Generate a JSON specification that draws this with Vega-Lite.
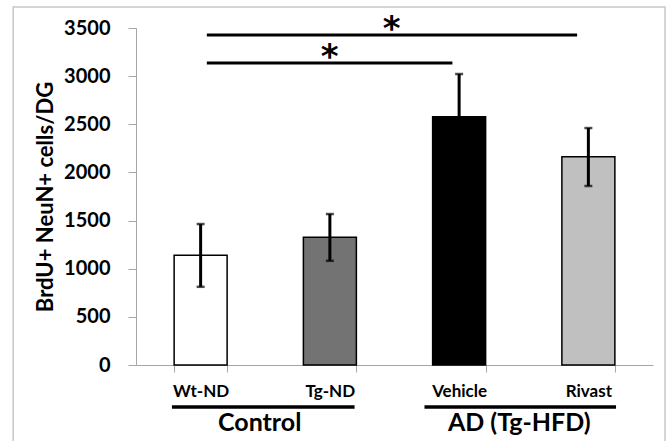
{
  "$schema": "https://vega.github.io/schema/vega-lite/v6.json",
  "autosize": "none",
  "width": 517,
  "height": 337,
  "padding": {"left": 136, "top": 28, "right": 14, "bottom": 76},
  "background": "white",
  "config": {
    "view": {"stroke": null},
    "font": "Lato",
    "axisY": {
      "grid": false, "tickSize": 8, "tickColor": "#a6a6a6", "domainColor": "#a6a6a6",
      "labelFontWeight": "bold", "labelFontSize": 20, "labelColor": "black",
      "labelPadding": 18, "labelFont": "Lato", "format": "d",
      "titleFont": "Lato", "titleFontSize": 22, "titleFontWeight": "bold", "titleColor": "black",
      "titlePadding": 6, "values": [0, 500, 1000, 1500, 2000, 2500, 3000, 3500]
    }
  },
  "datasets": {
    "bars": [
      {"group": "Wt-ND", "value": 1140, "lo": 812, "hi": 1464},
      {"group": "Tg-ND", "value": 1328, "lo": 1082, "hi": 1568},
      {"group": "Vehicle", "value": 2578, "lo": 2128, "hi": 3022},
      {"group": "Rivast", "value": 2162, "lo": 1859, "hi": 2461}
    ],
    "frame": [{"x": -0.95, "x2": 4.093, "y": 3718, "y2": -850}],
    "sig": [
      {"x": 0.548, "x2": 2.448, "y": 3137},
      {"x": 0.548, "x2": 3.413, "y": 3427}
    ],
    "stars": [
      {"x": 1.498, "y": 3083, "label": "*"},
      {"x": 1.977, "y": 3373, "label": "*"}
    ],
    "under": [
      {"x": 0.278, "x2": 1.691, "y": -436},
      {"x": 2.232, "x2": 3.714, "y": -436}
    ],
    "glabels": [
      {"x": 0.957, "y": -602, "label": "Control"},
      {"x": 2.965, "y": -602, "label": "AD (Tg-HFD)"}
    ]
  },
  "layer": [
    {
      "layer": [
        {
          "data": {"name": "bars"},
          "mark": {"type": "bar", "stroke": "black", "strokeWidth": 1.5},
          "encoding": {
            "x": {
              "field": "group", "type": "nominal", "sort": null,
              "scale": {"paddingInner": 0.59, "paddingOuter": 0.295},
              "axis": {
                "title": null, "labelAngle": 0, "tickBand": "extent",
                "tickSize": 7, "tickColor": "#a6a6a6", "domainColor": "#a6a6a6",
                "labelFontWeight": "bold", "labelFontSize": 17, "labelColor": "black",
                "labelPadding": 11, "labelFont": "Lato"
              }
            },
            "y": {
              "field": "value", "type": "quantitative", "title": "BrdU+ NeuN+ cells/DG",
              "scale": {"domain": [0, 3500], "nice": false}
            },
            "color": {
              "field": "group", "type": "nominal", "legend": null,
              "scale": {"domain": ["Wt-ND", "Tg-ND", "Vehicle", "Rivast"], "range": ["#ffffff", "#737373", "#000000", "#c0c0c0"]}
            }
          }
        },
        {
          "data": {"name": "bars"},
          "mark": {"type": "rule", "strokeWidth": 3, "color": "black"},
          "encoding": {
            "x": {"field": "group", "type": "nominal", "sort": null},
            "y": {"field": "lo", "type": "quantitative", "title": "BrdU+ NeuN+ cells/DG"},
            "y2": {"field": "hi"}
          }
        },
        {
          "data": {"name": "bars"},
          "mark": {"type": "tick", "size": 8, "thickness": 2.5, "color": "black"},
          "encoding": {
            "x": {"field": "group", "type": "nominal", "sort": null},
            "y": {"field": "lo", "type": "quantitative", "title": "BrdU+ NeuN+ cells/DG"}
          }
        },
        {
          "data": {"name": "bars"},
          "mark": {"type": "tick", "size": 8, "thickness": 2.5, "color": "black"},
          "encoding": {
            "x": {"field": "group", "type": "nominal", "sort": null},
            "y": {"field": "hi", "type": "quantitative", "title": "BrdU+ NeuN+ cells/DG"}
          }
        }
      ]
    },
    {
      "layer": [
        {
          "data": {"name": "frame"},
          "mark": {"type": "rect", "fill": "transparent", "stroke": "#c8c8c8", "strokeWidth": 1.5},
          "encoding": {
            "x": {"field": "x", "type": "quantitative", "scale": {"domain": [0, 4], "nice": false, "zero": false}, "axis": null},
            "x2": {"field": "x2"},
            "y": {"field": "y", "type": "quantitative", "title": "BrdU+ NeuN+ cells/DG"},
            "y2": {"field": "y2"}
          }
        },
        {
          "data": {"name": "sig"},
          "mark": {"type": "rule", "strokeWidth": 3, "color": "black"},
          "encoding": {
            "x": {"field": "x", "type": "quantitative", "axis": null},
            "x2": {"field": "x2"},
            "y": {"field": "y", "type": "quantitative", "title": "BrdU+ NeuN+ cells/DG"}
          }
        },
        {
          "data": {"name": "under"},
          "mark": {"type": "rule", "strokeWidth": 3.5, "color": "black"},
          "encoding": {
            "x": {"field": "x", "type": "quantitative", "axis": null},
            "x2": {"field": "x2"},
            "y": {"field": "y", "type": "quantitative", "title": "BrdU+ NeuN+ cells/DG"}
          }
        },
        {
          "data": {"name": "stars"},
          "mark": {"type": "text", "fontSize": 34, "fontWeight": "bold", "font": "DejaVu Sans", "baseline": "alphabetic", "align": "center", "color": "black"},
          "encoding": {
            "x": {"field": "x", "type": "quantitative", "axis": null},
            "y": {"field": "y", "type": "quantitative", "title": "BrdU+ NeuN+ cells/DG"},
            "text": {"field": "label"}
          }
        },
        {
          "data": {"name": "glabels"},
          "mark": {"type": "text", "fontSize": 25, "fontWeight": "bold", "font": "Lato", "baseline": "middle", "align": "center", "color": "black"},
          "encoding": {
            "x": {"field": "x", "type": "quantitative", "axis": null},
            "y": {"field": "y", "type": "quantitative", "title": "BrdU+ NeuN+ cells/DG"},
            "text": {"field": "label"}
          }
        }
      ]
    }
  ],
  "resolve": {"scale": {"x": "independent"}}
}
